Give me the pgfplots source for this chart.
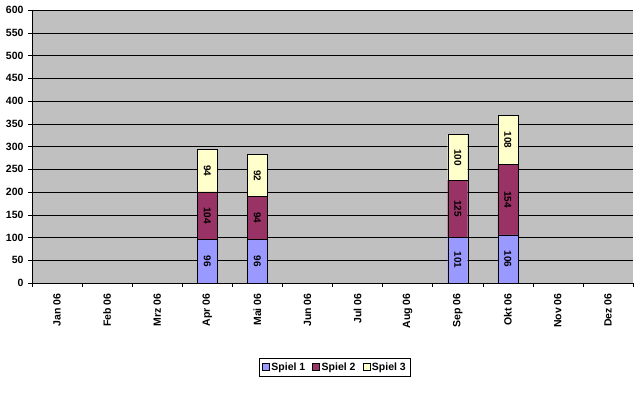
\documentclass[border=0pt]{standalone}
\usepackage{fontspec}
\setmainfont{Liberation Sans}
\usepackage{pgfplots}
\pgfplotsset{compat=1.18}
\definecolor{sA}{HTML}{9999FF}
\definecolor{sB}{HTML}{993366}
\definecolor{sC}{HTML}{FFFFCC}
\definecolor{bg}{HTML}{C0C0C0}
\begin{document}
\begin{tikzpicture}[x=1pt,y=1pt]
\path[use as bounding box] (0,0) rectangle (639,395);
\begin{axis}[
  at={(32pt,112pt)}, anchor=south west,
  scale only axis, width=601pt, height=273pt,
  ybar stacked, bar width=20pt,
  xmin=-0.5, xmax=11.5, ymin=0, ymax=600,
  ytick={0,50,...,600},
  xtick={0,...,11},
  xticklabels={Jan 06,Feb 06,Mrz 06,Apr 06,Mai 06,Jun 06,Jul 06,Aug 06,Sep 06,Okt 06,Nov 06,Dez 06},
  minor xtick={-0.5,0.5,...,11.5},
  major x tick style={draw=none},
  minor x tick style={black, thin},
  minor tick length=4pt,
  major tick length=4pt,
  tick align=outside,
  xtick pos=bottom, ytick pos=left,
  ymajorgrids, grid style={black, thin},
  axis background/.style={fill=bg},
  axis x line*=bottom, axis y line*=left,
  axis line style={black, thin},
  separate axis lines,
  tick style={black},
  /pgf/number format/assume math mode=true,
  ticklabel style={font=\bfseries\fontsize{10.5}{11}\selectfont},
  xticklabel style={rotate=90, anchor=east, xshift=-3pt},
  yticklabel style={xshift=-1pt},
  point meta=explicit symbolic,
  nodes near coords,
  nodes near coords align=center,
  every node near coord/.append style={rotate=-90, anchor=center, black, font=\bfseries\fontsize{10}{10}\selectfont},
  legend columns=3,
  legend style={at={(0.504,-0.308)}, anchor=center, draw=black, fill=white, font=\bfseries\fontsize{10.5}{12}\selectfont, /tikz/every even column/.append style={column sep=5pt}, inner sep=2.5pt},
  legend image code/.code={\draw[#1,draw=black] (0pt,-3.5pt) rectangle (7pt,3.5pt);},
]
\addplot[fill=sA, draw=black] coordinates {(3,96) [96] (4,96) [96] (8,101) [101] (9,106) [106]};
\addplot[fill=sB, draw=black] coordinates {(3,104) [104] (4,94) [94] (8,125) [125] (9,154) [154]};
\addplot[fill=sC, draw=black] coordinates {(3,94) [94] (4,92) [92] (8,100) [100] (9,108) [108]};
\legend{Spiel 1,Spiel 2,Spiel 3}
\end{axis}
\end{tikzpicture}
\end{document}
